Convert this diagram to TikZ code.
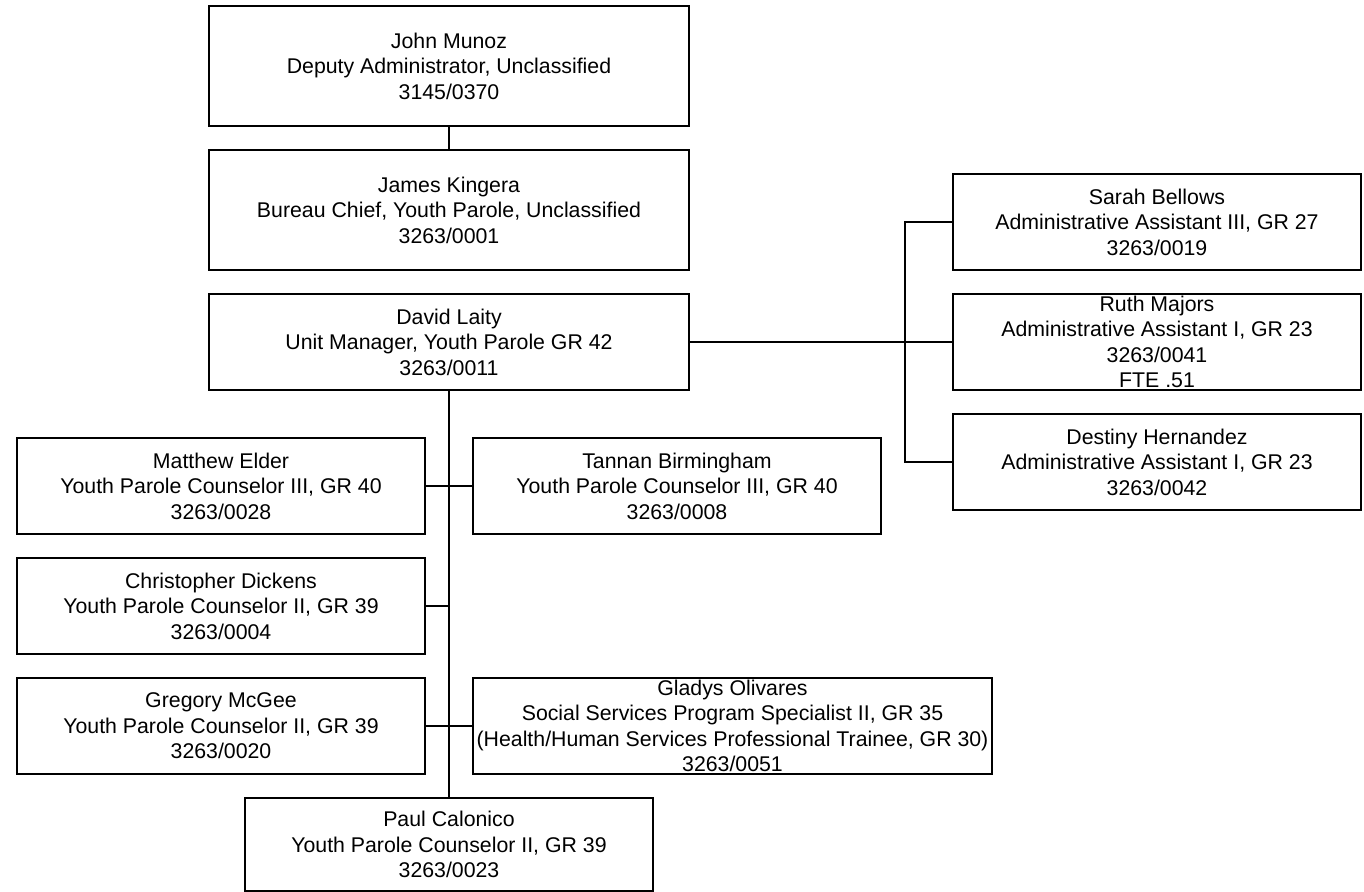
\documentclass[tikz,border=0pt]{standalone}
\usepackage{fontspec}
\setmainfont{Liberation Sans}
\usepackage{tikz}

\begin{document}
\begin{tikzpicture}[x=0.5pt, y=-0.5pt, line width=0.9pt,
             font=\fontsize{10.65}{12.75}\selectfont,
             person/.style={draw, rectangle, inner sep=0pt, align=center,
                            minimum width=204pt, minimum height=48pt},
             chief/.style={person, minimum width=240pt, minimum height=60pt}]
             \path[fill=white, use as bounding box] (0, 0) rectangle (1364, 892);

             \node[chief] (john) at (449, 66) {John Munoz\\Deputy Administrator, Unclassified\\3145/0370};
             \node[chief] (james) at (449, 210) {James Kingera\\Bureau Chief, Youth Parole, Unclassified\\3263/0001};
             \node[person, minimum width=240pt] (david) at (449, 342) {David Laity\\Unit Manager, Youth Parole GR 42\\3263/0011};

             \node[person] (sarah) at (1157, 222) {Sarah Bellows\\Administrative Assistant III, GR 27\\3263/0019};
             \node[person] (ruth) at (1157, 342) {Ruth Majors\\Administrative Assistant I, GR 23\\3263/0041\\FTE .51};
             \node[person] (destiny) at (1157, 462) {Destiny Hernandez\\Administrative Assistant I, GR 23\\3263/0042};

             \node[person] (matthew) at (221, 486) {Matthew Elder\\Youth Parole Counselor III, GR 40\\3263/0028};
             \node[person] (tannan) at (677, 486) {Tannan Birmingham\\Youth Parole Counselor III, GR 40\\3263/0008};
             \node[person] (christopher) at (221, 606) {Christopher Dickens\\Youth Parole Counselor II, GR 39\\3263/0004};
             \node[person] (gregory) at (221, 726) {Gregory McGee\\Youth Parole Counselor II, GR 39\\3263/0020};
             \node[person, minimum width=259.5pt] (gladys) at (732.5, 726) {Gladys Olivares\\Social Services Program Specialist II, GR 35\\(Health/Human Services Professional Trainee, GR 30)\\3263/0051};
             \node[person, minimum height=46.5pt] (paul) at (449, 844.5) {Paul Calonico\\Youth Parole Counselor II, GR 39\\3263/0023};

             \coordinate (bus) at (905, 342);

             \draw (john.south) -- (james.north);
             \draw (david.south) -- (paul.north);
             \draw (david.east) -- (ruth.west);
             \draw (sarah.west) -| (bus) |- (destiny.west);
             \draw (matthew.east) -- (tannan.west);
             \draw (christopher.east) -- (christopher.east -| david.south);
             \draw (gregory.east) -- (gladys.west);
\end{tikzpicture}
\end{document}
